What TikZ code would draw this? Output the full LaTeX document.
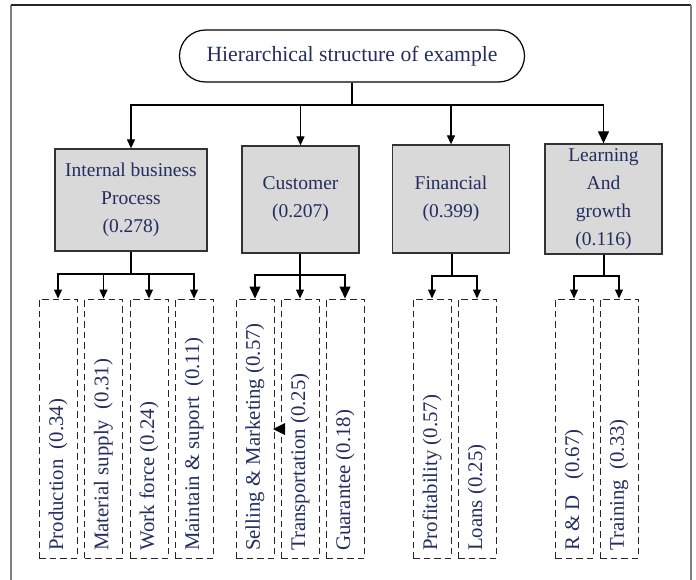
\documentclass[tikz,border=0pt]{standalone}
\usepackage{fontspec}
\setmainfont{Liberation Serif}
\usetikzlibrary{arrows.meta,positioning}
\definecolor{txt}{RGB}{35,45,95}
\definecolor{boxfill}{RGB}{217,217,217}
\begin{document}
\begin{tikzpicture}[x=1pt,y=-1pt,
  every node/.style={font=\fontsize{19.5}{28}\selectfont,text=txt},
  arr/.style={line width=1.2pt,-{Triangle[length=9pt,width=8pt]}},
  bigarr/.style={line width=1.2pt,-{Triangle[length=12pt,width=11pt]}},
  mainbox/.style={draw=black!80,line width=1.3pt,fill=boxfill,align=center,inner sep=0pt},
  childbox/.style={draw=black!85,line width=1pt,dash pattern=on 6.5pt off 4pt,minimum width=38pt,minimum height=259pt,inner sep=0pt},
  childtxt/.style={rotate=90,anchor=west,inner sep=0pt,font=\fontsize{20.8}{25}\selectfont}]
\useasboundingbox (0,0) rectangle (696,580);
% frame
\draw[gray,line width=1.5pt] (11,580) -- (11,5);
\draw[black!85,line width=1.5pt] (11,5) -- (691,5);
\draw[gray,line width=1.5pt] (691,5) -- (691,580);
% root
\node[draw=black,line width=1.2pt,rounded corners=26pt,minimum width=345pt,minimum height=52pt,inner sep=0pt,font=\fontsize{21.7}{26}\selectfont] (root) at (352,56) {Hierarchical structure of example};
% main boxes
\node[mainbox,minimum width=152pt,minimum height=102pt] (b1) at (131,200) {Internal business\\Process\\(0.278)};
\node[mainbox,minimum width=117pt,minimum height=107pt] (b2) at (300.5,199.5) {Customer\\(0.207)};
\node[mainbox,minimum width=117pt,minimum height=108pt] (b3) at (451,199) {Financial\\(0.399)};
\node[mainbox,minimum width=117pt,minimum height=110pt] (b4) at (603.5,199) {Learning\\And\\growth\\(0.116)};
% root connectors
\coordinate (rb) at (352,105);
\draw[line width=1.2pt] (root.south) -- (rb);
\draw[arr] (rb) -| (b1.north);
\draw[arr] (rb) -| (b2.north);
\draw[arr] (rb) -| (b3.north);
\draw[bigarr] (rb) -| (b4.north);
% child boxes
\node[childbox] (c11) at (58,428.5) {};
\node[childbox] (c12) at (103.5,428.5) {};
\node[childbox] (c13) at (149,428.5) {};
\node[childbox] (c14) at (194,428.5) {};
\node[childbox] (c21) at (255,428.5) {};
\node[childbox] (c22) at (300,428.5) {};
\node[childbox] (c23) at (345,428.5) {};
\node[childbox] (c31) at (432,428.5) {};
\node[childbox] (c32) at (477,428.5) {};
\node[childbox] (c41) at (574,428.5) {};
\node[childbox] (c42) at (619,428.5) {};
% child texts
\node[childtxt] (t11) at (58,551) {Production\ \ (0.34)};
\node[childtxt] (t12) at (103.5,551) {Material supply\ \ (0.31)};
\node[childtxt] (t13) at (149,551) {Work force (0.24)};
\node[childtxt] (t14) at (194,551) {Maintain \& suport\ \ (0.11)};
\node[childtxt] (t21) at (255,551) {Selling \& Marketing (0.57)};
\node[childtxt] (t22) at (300,551) {Transportation (0.25)};
\node[childtxt] (t23) at (345,551) {Guarantee (0.18)};
\node[childtxt] (t31) at (432,551) {Profitability (0.57)};
\node[childtxt] (t32) at (477,551) {Loans (0.25)};
\node[childtxt] (t41) at (574,551) {R \& D\ \ \ (0.67)};
\node[childtxt] (t42) at (619,551) {Training\ \ (0.33)};
% child connectors
\coordinate (j1) at (131,274);
\draw[line width=1.2pt] (b1.south) -- (j1);
\draw[arr] (j1) -| (c11.north);
\draw[arr] (j1) -| (c12.north);
\draw[arr] (j1) -| (c13.north);
\draw[arr] (j1) -| (c14.north);
\coordinate (j2) at (300,275);
\draw[line width=1.2pt] (b2.south -| j2) -- (j2);
\draw[bigarr] (j2) -| (c21.north);
\draw[arr] (j2) -- (c22.north);
\draw[bigarr] (j2) -| (c23.north);
\coordinate (j3) at (452,276);
\draw[line width=1.2pt] (b3.south -| j3) -- (j3);
\draw[arr] (j3) -| (c31.north);
\draw[arr] (j3) -| (c32.north);
\coordinate (j4) at (604,276);
\draw[line width=1.2pt] (b4.south -| j4) -- (j4);
\draw[arr] (j4) -| (c41.north);
\draw[arr] (j4) -| (c42.north);
% stray arrowhead
\fill[black] (273,429) -- (285,423) -- (285,435) -- cycle;
\end{tikzpicture}
\end{document}
